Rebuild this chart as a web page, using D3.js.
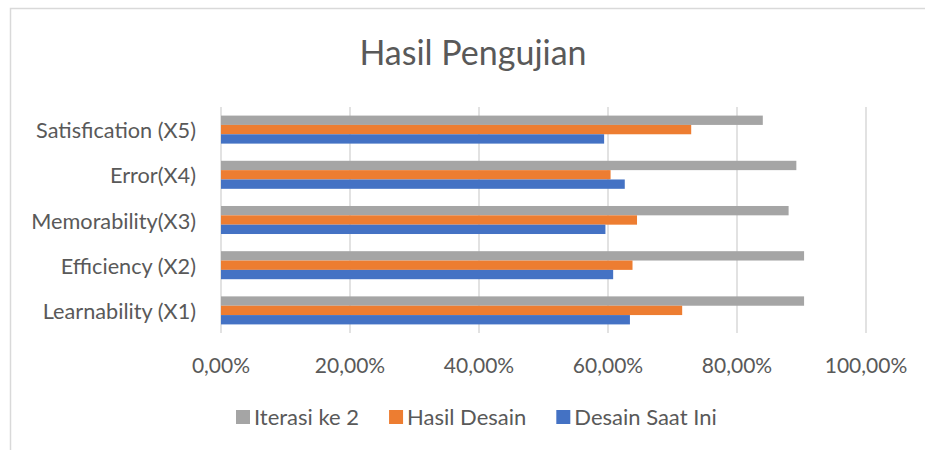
<!DOCTYPE html>
<html>
<head>
<meta charset="utf-8">
<script src="https://cdn.jsdelivr.net/npm/d3@7"></script>
<style>
  body { margin: 0; background: #fff; }
  text { font-family: Lato, "Open Sans", sans-serif; fill: #595959; }
</style>
</head>
<body>
<div id="chart"></div>
<script>
// categories, bottom to top as in the chart
const categories = ["Learnability (X1)", "Efficiency (X2)", "Memorability(X3)", "Error(X4)", "Satisfication (X5)"];
const seriesNames = ["Iterasi ke 2", "Hasil Desain", "Desain Saat Ini"];
const iterasi2 = [0.904, 0.904, 0.880, 0.892, 0.840];
const hasilDesain = [0.715, 0.638, 0.645, 0.604, 0.729];
const desainSaatIni = [0.634, 0.608, 0.596, 0.626, 0.594];
const tickValues = [0, 0.2, 0.4, 0.6, 0.8, 1.0];
const colors = ["#A5A5A5", "#ED7D31", "#4472C4"];

const seriesValues = [iterasi2, hasilDesain, desainSaatIni];

const width = 925;
const height = 450;

const svg = d3.select("#chart")
    .append("svg")
        .attr("width", width)
        .attr("height", height);

// chart area border (right/bottom run off the picture)
svg.append("rect")
    .attr("x", 10.5)
    .attr("y", 8.5)
    .attr("width", 960)
    .attr("height", 480)
    .attr("fill", "none")
    .attr("stroke", "#D9D9D9")
    .attr("stroke-width", 1.5);

svg.append("text")
    .attr("x", 473)
    .attr("y", 65)
    .attr("text-anchor", "middle")
    .attr("font-size", "34px")
    .text("Hasil Pengujian");

const x = d3.scaleLinear()
    .domain([0, 1])
    .range([221, 866]);

// top category first in the band scale
const y = d3.scaleBand()
    .domain(categories.slice().reverse())
    .range([107, 333])
    .paddingInner(0.38)
    .paddingOuter(0.19);

const ySub = d3.scaleBand()
    .domain(seriesNames)
    .range([0, y.bandwidth()]);

// gridlines
svg.append("g")
    .selectAll("line")
    .data(tickValues)
    .join("line")
        .attr("x1", d => x(d))
        .attr("x2", d => x(d))
        .attr("y1", 107)
        .attr("y2", 333)
        .attr("stroke", "#D9D9D9")
        .attr("stroke-width", 1.5);

// tick labels
svg.append("g")
    .selectAll("text")
    .data(tickValues)
    .join("text")
        .attr("x", d => x(d))
        .attr("y", 373)
        .attr("text-anchor", "middle")
        .attr("font-size", "21px")
        .text(d => d3.format(".2f")(d * 100).replace(".", ",") + "%");

// category labels
svg.append("g")
    .selectAll("text")
    .data(categories)
    .join("text")
        .attr("x", 196)
        .attr("y", d => y(d) + y.bandwidth() / 2 + 1)
        .attr("dy", "0.35em")
        .attr("text-anchor", "end")
        .attr("font-size", "21.7px")
        .text(d => d);

// bars
const rows = [];
seriesNames.forEach((s, i) => {
    categories.forEach((c, j) => {
        rows.push({ series: s, category: c, value: seriesValues[i][j], color: colors[i] });
    });
});

svg.append("g")
    .selectAll("rect")
    .data(rows)
    .join("rect")
        .attr("x", x(0))
        .attr("y", d => y(d.category) + ySub(d.series))
        .attr("width", d => x(d.value) - x(0))
        .attr("height", ySub.bandwidth())
        .attr("fill", d => d.color);

// legend
const legend = svg.append("g");
let lx = 236;
seriesNames.forEach((s, i) => {
    legend.append("rect")
        .attr("x", lx)
        .attr("y", 410)
        .attr("width", 14)
        .attr("height", 14)
        .attr("fill", colors[i]);
    const t = legend.append("text")
        .attr("x", lx + 18)
        .attr("y", 417)
        .attr("dy", "0.35em")
        .attr("font-size", "22px")
        .text(s);
    lx += 18 + t.node().getComputedTextLength() + 30;
});
</script>
</body>
</html>
